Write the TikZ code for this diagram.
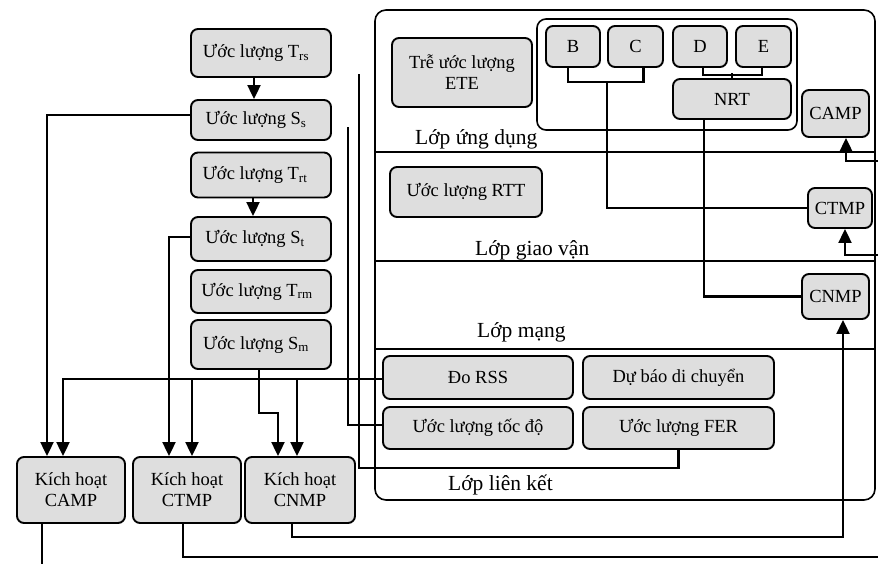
\documentclass[tikz,border=0pt]{standalone}
\usepackage{fontspec}
\setmainfont{Liberation Serif}
\usetikzlibrary{arrows.meta}
\definecolor{boxfill}{HTML}{DEDEDE}
\begin{document}
\begin{tikzpicture}[x=1pt,y=-1pt,
  box/.style={draw, fill=boxfill, rounded corners=7pt, line width=1.9pt, inner sep=0pt, align=center, font=\fontsize{18.5}{21}\selectfont},
  conn/.style={line width=2.1pt},
  arr/.style={conn, -{Triangle[length=14pt,width=13pt]}},
  layer/.style={font=\fontsize{21.5}{24}\selectfont, anchor=base west, inner sep=0pt},
  sep/.style={line width=1.3pt},
  frame/.style={line width=1.6pt}]
\useasboundingbox (0,0) rectangle (878,563);

% big layered box
\draw[frame, rounded corners=11pt] (375,10) rectangle (875,500);
\draw[frame, rounded corners=9pt] (537,19) rectangle (797,130);
\draw[sep] (375,152) -- (875,152);
\draw[sep] (375,261) -- (875,261);
\draw[sep] (375,349) -- (875,349);

\node[layer] (l1) at (415,144) {Lớp ứng dụng};
\node[layer] (l2) at (475,255) {Lớp giao vận};
\node[layer] (l3) at (477,337) {Lớp mạng};
\node[layer] (l4) at (448,490) {Lớp liên kết};

% left column
\node[box, minimum width=140pt, minimum height=48pt] (trs) at (261,53) {Ước lượng T\textsubscript{rs}\hspace{10pt}};
\node[box, minimum width=140pt, minimum height=40pt] (se) at (261,120) {Ước lượng S\textsubscript{s}\hspace{10pt}};
\node[box, minimum width=140pt, minimum height=45pt] (trt) at (261,175) {Ước lượng T\textsubscript{rt}\hspace{12pt}};
\node[box, minimum width=140pt, minimum height=44pt] (st) at (261,239) {Ước lượng S\textsubscript{t}\hspace{12pt}};
\node[box, minimum width=140pt, minimum height=43pt] (trm) at (261,291.5) {Ước lượng T\textsubscript{rm}\hspace{8pt}};
\node[box, minimum width=140pt, minimum height=49pt] (sm) at (261,344.5) {Ước lượng S\textsubscript{m}\hspace{10pt}};

% activation boxes
\node[box, minimum width=108pt, minimum height=66pt] (kcamp) at (71,490) {Kích hoạt\\CAMP};
\node[box, minimum width=108pt, minimum height=66pt] (kctmp) at (187,490) {Kích hoạt\\CTMP};
\node[box, minimum width=110pt, minimum height=66pt] (kcnmp) at (300,490) {Kích hoạt\\CNMP};

% application layer
\node[box, minimum width=140pt, minimum height=69pt] (ete) at (462,72.5) {Trễ ước lượng\\ETE};
\node[box, minimum width=54pt, minimum height=41pt] (b) at (573,46.5) {B};
\node[box, minimum width=55pt, minimum height=41pt] (c) at (635.5,46.5) {C};
\node[box, minimum width=54pt, minimum height=41pt] (d) at (700,46.5) {D};
\node[box, minimum width=55pt, minimum height=41pt] (e) at (763.5,46.5) {E};
\node[box, minimum width=118pt, minimum height=40pt] (nrt) at (732,99) {NRT};
\node[box, minimum width=67pt, minimum height=47pt] (camp) at (835.5,113.5) {CAMP};

% transport layer
\node[box, minimum width=152pt, minimum height=50pt] (rtt) at (466,192) {Ước lượng RTT};
\node[box, minimum width=64pt, minimum height=40pt] (ctmp) at (840,208) {CTMP};

% network layer
\node[box, minimum width=67pt, minimum height=45pt] (cnmp) at (835.5,296.5) {CNMP};

% link layer
\node[box, minimum width=190pt, minimum height=43pt] (rss) at (478,377.5) {Đo RSS};
\node[box, minimum width=191pt, minimum height=43pt] (dubao) at (678.5,377.5) {Dự báo di chuyển};
\node[box, minimum width=190pt, minimum height=42pt] (tocdo) at (478,428) {Ước lượng tốc độ};
\node[box, minimum width=191pt, minimum height=42pt] (fer) at (678.5,428) {Ước lượng FER};

% free ends and helper points
\coordinate (f1) at (348,127);
\coordinate (f2) at (359,74);
\coordinate (r1) at (878,161);
\coordinate (r2) at (878,255);
\coordinate (r3) at (878,557);
\coordinate (bc) at (607,81);
\coordinate (rssw) at ([yshift=-1.5pt]rss.west);
\coordinate (kctin) at ([xshift=5pt]kctmp.north);
\coordinate (kcnin) at ([xshift=-3pt]kcnmp.north);

% left column arrows
\draw[arr] ([xshift=-7pt]trs.south) -- ([xshift=-7pt]se.north);
\draw[arr] ([xshift=-8pt]trt.south) -- ([xshift=-8pt]st.north);
\draw[arr] ([yshift=5pt]se.west) -| ([xshift=-24pt]kcamp.north);
\draw[arr] ([yshift=2pt]st.west) -| ([xshift=-18pt]kctmp.north);
\draw[arr] ([xshift=-2pt]sm.south) -- ++(0,43) -| ([xshift=-22pt]kcnmp.north);
\draw[arr] (rssw) -| ([xshift=-8pt]kcamp.north);
\draw[arr] (kctin |- rssw) -- (kctin);
\draw[arr] (kcnin |- rssw) -- (kcnin);

% link layer feeds
\draw[conn] (f1) |- ([yshift=3pt]tocdo.west);
\draw[conn] (f2) |- ([yshift=-18pt]fer.south) -- (fer.south);

% application brackets
\draw[conn] ([xshift=-5pt]b.south) -- ++(0,14) -| ([xshift=8pt]c.south);
\draw[conn] (bc) |- (ctmp.west);
\draw[conn] ([xshift=3pt]d.south) -- ++(0,7) -| ([xshift=-1.5pt]e.south);
\draw[conn] (nrt.north) -- ++(0,-5);
\draw[conn] ([xshift=-28pt]nrt.south) |- (cnmp.west);

% right side arrows
\draw[arr] (r1) -| ([xshift=10.5pt]camp.south);
\draw[arr] (r2) -| ([xshift=5pt]ctmp.south);

% activation outputs
\draw[arr] ([xshift=-8pt]kcnmp.south) -- ++(0,13) -| ([xshift=7.5pt]cnmp.south);
\draw[conn] ([xshift=-4pt]kctmp.south) |- (r3);
\draw[conn] ([xshift=-29pt]kcamp.south) -- ++(0,40);
\end{tikzpicture}
\end{document}
